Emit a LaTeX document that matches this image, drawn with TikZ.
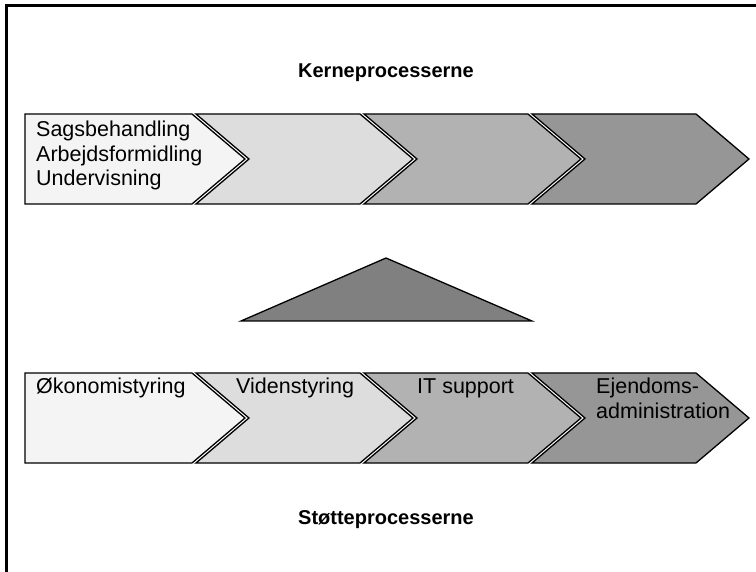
\documentclass[tikz,border=0pt]{standalone}
\usepackage{fontspec}
\setmainfont{Liberation Sans}
\definecolor{cA}{HTML}{F4F4F4}
\definecolor{cB}{HTML}{DDDDDD}
\definecolor{cC}{HTML}{B2B2B2}
\definecolor{cD}{HTML}{969696}
\definecolor{cT}{HTML}{808080}
\begin{document}
\begin{tikzpicture}[x=1pt,y=-1pt,
  chev/.style={draw=black, line width=1.3pt, line join=miter},
  lbl/.style={font=\fontsize{21.5}{24.5}\selectfont, inner sep=0pt, anchor=base west},
  ttl/.style={font=\bfseries\fontsize{20}{24}\selectfont, inner sep=0pt, anchor=base}]
\useasboundingbox (0,0) rectangle (756,572);
\fill[white] (0,0) rectangle (756,572);
\draw[line width=3pt] (6.5,572) -- (6.5,5.5) -- (756,5.5);

% top row
\path[chev, fill=cA] (25,114) -- (192,114) -- (245,159) -- (192,204) -- (25,204) -- cycle;
\path[chev, fill=cB] (196,114) -- (360,114) -- (413,159) -- (360,204) -- (196,204) -- (249,159) -- cycle;
\path[chev, fill=cC] (364,114) -- (528,114) -- (581,159) -- (528,204) -- (364,204) -- (417,159) -- cycle;
\path[chev, fill=cD] (532,114) -- (696,114) -- (749,159) -- (696,204) -- (532,204) -- (585,159) -- cycle;

% bottom row
\path[chev, fill=cA] (25,373) -- (192,373) -- (245,418) -- (192,463) -- (25,463) -- cycle;
\path[chev, fill=cB] (196,373) -- (360,373) -- (413,418) -- (360,463) -- (196,463) -- (249,418) -- cycle;
\path[chev, fill=cC] (364,373) -- (528,373) -- (581,418) -- (528,463) -- (364,463) -- (417,418) -- cycle;
\path[chev, fill=cD] (532,373) -- (696,373) -- (749,418) -- (696,463) -- (532,463) -- (585,418) -- cycle;

% triangle
\path[chev, fill=cT] (241,321) -- (386,258) -- (532,321) -- cycle;

% titles
\node[ttl] (kerne) at (386,78) {Kerneprocesserne};
\node[ttl] (stoette) at (386,524) {Støtteprocesserne};

% labels
\node[lbl] (t1a) at (36,137) {Sagsbehandling};
\node[lbl] (t1b) at (36,161.5) {Arbejdsformidling};
\node[lbl] (t1c) at (36,186) {Undervisning};
\node[lbl] (b1) at (36,394) {Økonomistyring};
\node[lbl] (b2) at (236,394) {Videnstyring};
\node[lbl] (b3) at (417,394) {IT support};
\node[lbl] (b4a) at (596,394) {Ejendoms-};
\node[lbl] (b4b) at (596,419) {administration};
\end{tikzpicture}
\end{document}
